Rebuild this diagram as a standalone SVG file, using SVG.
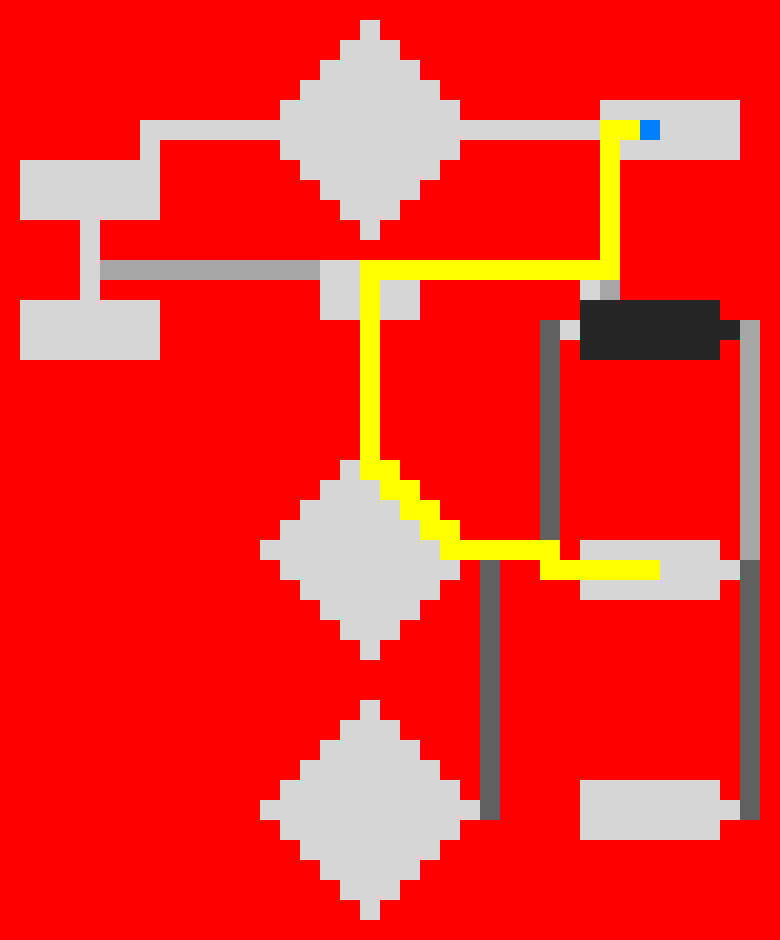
<svg xmlns="http://www.w3.org/2000/svg" xmlns:xlink="http://www.w3.org/1999/xlink" width="780" height="940" viewBox="0 0 780 940" shape-rendering="crispEdges">
<style>
.bg{fill:#ff0000}
.node{fill:#d6d6d6}
.dark{fill:#262626}
.c{fill:none;stroke-width:20;stroke-linecap:butt;stroke-linejoin:miter}
.lg{stroke:#d6d6d6}
.mg{stroke:#a6a6a6}
.dg{stroke:#606060}
.yl{stroke:#ffff00}
</style>
<defs>
<path id="diamond" d="M100,0 h20 v20 h20 v20 h20 v20 h20 v20 h20 v20 h20 v20 h-20 v20 h-20 v20 h-20 v20 h-20 v20 h-20 v20 h-20 v-20 h-20 v-20 h-20 v-20 h-20 v-20 h-20 v-20 h-20 v-20 h20 v-20 h20 v-20 h20 v-20 h20 v-20 h20 v-20 z"/>
<marker id="blue" markerUnits="userSpaceOnUse" markerWidth="20" markerHeight="20" viewBox="0 0 20 20" refX="0" refY="10" orient="0">
<rect x="0" y="0" width="20" height="20" fill="#0080ff"/>
</marker>
</defs>
<rect class="bg" x="0" y="0" width="780" height="940"/>
<g id="n1"><use xlink:href="#diamond" href="#diamond" x="260" y="20" class="node"/></g>
<g id="n2"><rect class="node" x="600" y="100" width="140" height="60"/></g>
<g id="n3"><rect class="node" x="20" y="160" width="140" height="60"/></g>
<g id="n4"><rect class="node" x="20" y="300" width="140" height="60"/></g>
<g id="n5"><rect class="node" x="320" y="260" width="100" height="60"/></g>
<g id="n6"><rect class="dark" x="580" y="300" width="140" height="60"/><rect class="dark" x="720" y="320" width="20" height="20"/><rect class="node" x="560" y="320" width="20" height="20"/><rect class="node" x="580" y="280" width="20" height="20"/></g>
<g id="n7"><use xlink:href="#diamond" href="#diamond" x="260" y="440" class="node"/></g>
<g id="n8"><rect class="node" x="580" y="540" width="140" height="60"/><rect class="node" x="720" y="560" width="20" height="20"/></g>
<g id="n9"><use xlink:href="#diamond" href="#diamond" x="260" y="700" class="node"/></g>
<g id="n10"><rect class="node" x="580" y="780" width="140" height="60"/><rect class="node" x="720" y="800" width="20" height="20"/></g>
<g id="connectors">
<path class="c lg" d="M150,160 V130 H260"/>
<path class="c lg" d="M480,130 H600"/>
<path class="c lg" d="M90,220 V300"/>
<path class="c mg" d="M100,270 H320 M420,270 H610 V300"/>
<path class="c mg" d="M740,330 H750 V560"/>
<path class="c dg" d="M560,330 H550 V560"/>
<path class="c dg" d="M480,810 H490 V560"/>
<path class="c dg" d="M740,810 H750 V560"/>
<path class="c yl" marker-start="url(#blue)" d="M640,130 H610 V270 H370 V470 H390 V490 H410 V510 H430 V530 H450 V550 H550 V570 H660"/>
</g>
</svg>
